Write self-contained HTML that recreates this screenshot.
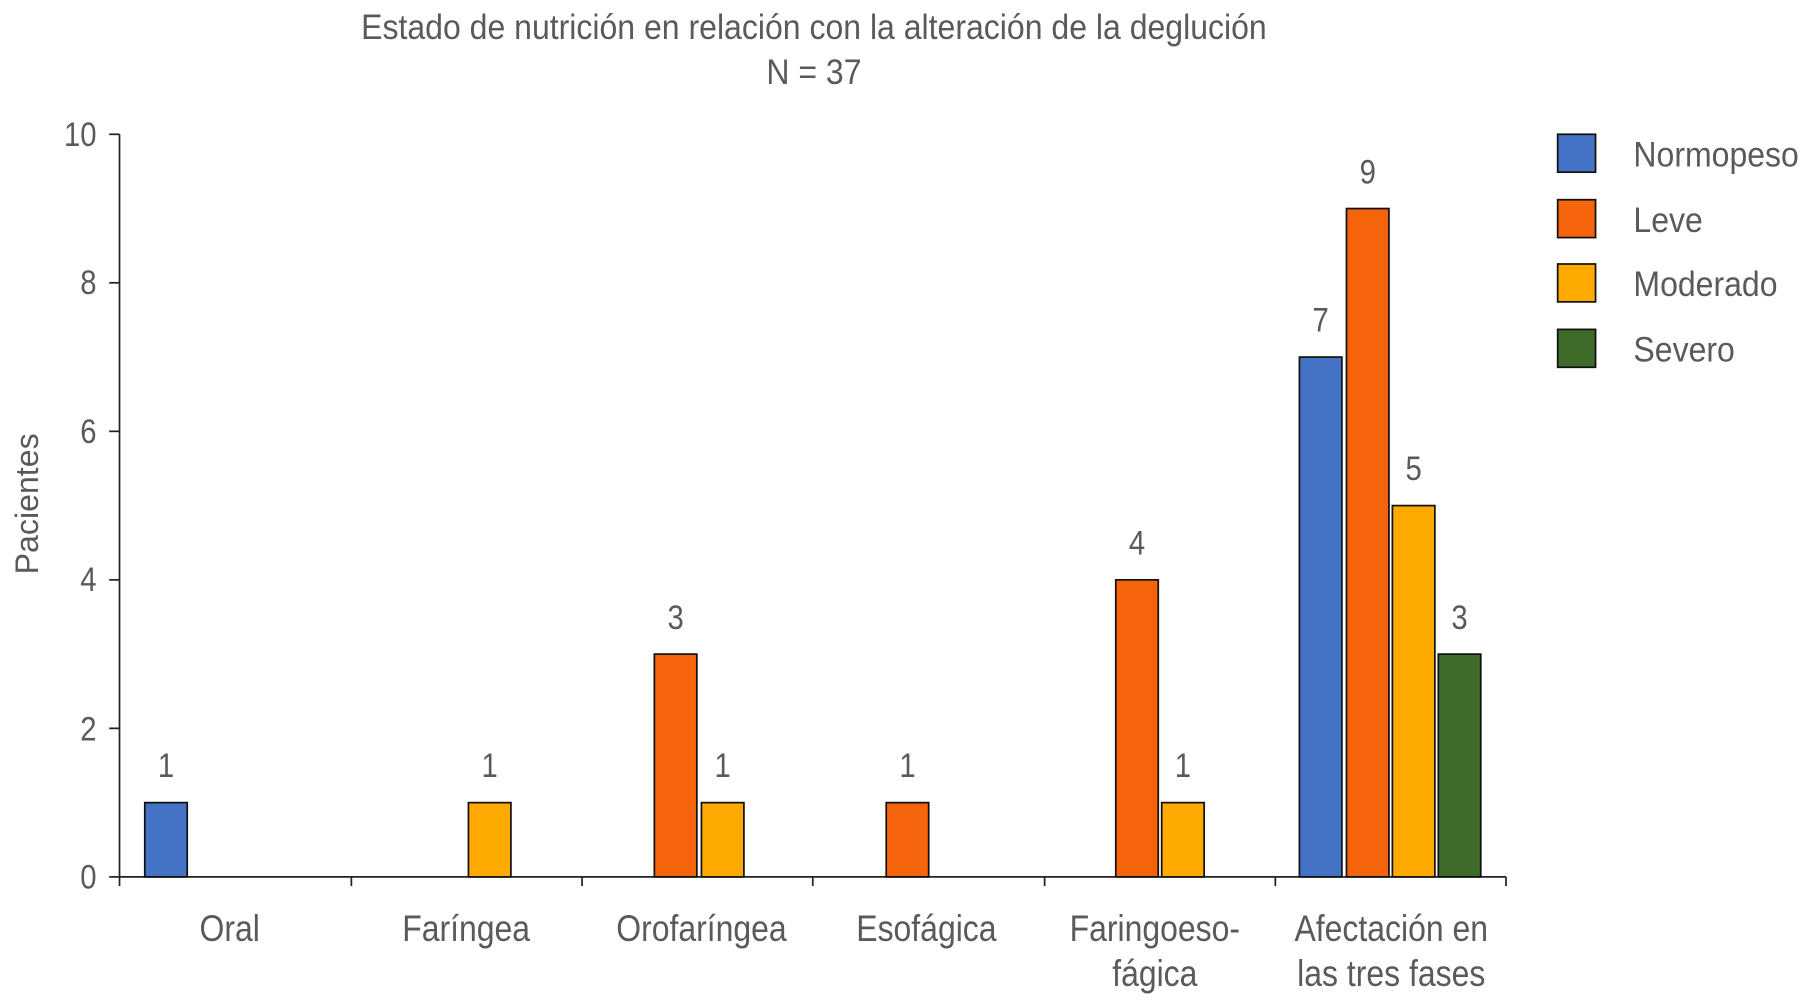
<!DOCTYPE html>
<html><head><meta charset="utf-8"><style>html,body{margin:0;padding:0;background:#fff}svg{display:block}</style></head><body>
<svg width="1800" height="1002" viewBox="0 0 1568 873" xmlns="http://www.w3.org/2000/svg" font-family="Liberation Sans, sans-serif" fill="#5a5a5a">
<g font-size="31" text-anchor="middle">
<text transform="translate(709,34) scale(0.9,1)">Estado de nutrición en relación con la alteración de la deglución</text>
<text transform="translate(709,73) scale(0.9,1)">N = 37</text>
</g>
<text transform="translate(33,439) rotate(-90)" font-size="28" text-anchor="middle">Pacientes</text>
<g stroke="#222" stroke-width="1.5">
<line x1="104" y1="117" x2="104" y2="772"/>
<line x1="104" y1="764" x2="1312" y2="764"/>
<line x1="95" y1="117" x2="104" y2="117"/><line x1="95" y1="246.4" x2="104" y2="246.4"/><line x1="95" y1="375.8" x2="104" y2="375.8"/><line x1="95" y1="505.2" x2="104" y2="505.2"/><line x1="95" y1="634.6" x2="104" y2="634.6"/><line x1="95" y1="764" x2="104" y2="764"/>
<line x1="306" y1="764" x2="306" y2="772"/><line x1="507" y1="764" x2="507" y2="772"/><line x1="708" y1="764" x2="708" y2="772"/><line x1="910" y1="764" x2="910" y2="772"/><line x1="1111" y1="764" x2="1111" y2="772"/><line x1="1312" y1="764" x2="1312" y2="772"/>
</g>
<g font-size="30" text-anchor="end">
<text transform="translate(84,127) scale(0.85,1)">10</text>
<text transform="translate(84,256) scale(0.85,1)">8</text>
<text transform="translate(84,386) scale(0.85,1)">6</text>
<text transform="translate(84,515) scale(0.85,1)">4</text>
<text transform="translate(84,645) scale(0.85,1)">2</text>
<text transform="translate(84,774) scale(0.85,1)">0</text>
</g>
<g stroke="#111" stroke-width="1.5">
<rect x="126" y="699.3" width="37" height="64.7" fill="#4472C4"/>
<rect x="408" y="699.3" width="37" height="64.7" fill="#FFAA00"/>
<rect x="570" y="569.9" width="37" height="194.1" fill="#F5640A"/>
<rect x="611" y="699.3" width="37" height="64.7" fill="#FFAA00"/>
<rect x="772" y="699.3" width="37" height="64.7" fill="#F5640A"/>
<rect x="972" y="505.2" width="37" height="258.8" fill="#F5640A"/>
<rect x="1012" y="699.3" width="37" height="64.7" fill="#FFAA00"/>
<rect x="1132" y="311.1" width="37" height="452.9" fill="#4472C4"/>
<rect x="1173" y="181.7" width="37" height="582.3" fill="#F5640A"/>
<rect x="1213" y="440.5" width="37" height="323.5" fill="#FFAA00"/>
<rect x="1253" y="569.9" width="37" height="194.1" fill="#3F6B2A"/>
</g>
<g font-size="30" text-anchor="middle">
<text transform="translate(144.5,677) scale(0.85,1)">1</text>
<text transform="translate(426.5,677) scale(0.85,1)">1</text>
<text transform="translate(588.5,548) scale(0.85,1)">3</text>
<text transform="translate(629.5,677) scale(0.85,1)">1</text>
<text transform="translate(790.5,677) scale(0.85,1)">1</text>
<text transform="translate(990.5,483) scale(0.85,1)">4</text>
<text transform="translate(1030.5,677) scale(0.85,1)">1</text>
<text transform="translate(1150.5,289) scale(0.85,1)">7</text>
<text transform="translate(1191.5,160) scale(0.85,1)">9</text>
<text transform="translate(1231.5,418) scale(0.85,1)">5</text>
<text transform="translate(1271.5,548) scale(0.85,1)">3</text>
</g>
<g font-size="32" text-anchor="middle">
<text transform="translate(200,820) scale(0.87,1)">Oral</text>
<text transform="translate(406,820) scale(0.87,1)">Faríngea</text>
<text transform="translate(611,820) scale(0.87,1)">Orofaríngea</text>
<text transform="translate(807,820) scale(0.87,1)">Esofágica</text>
<text transform="translate(1006,820) scale(0.87,1)">Faringoeso-</text>
<text transform="translate(1006,859) scale(0.87,1)">fágica</text>
<text transform="translate(1212,820) scale(0.87,1)">Afectación en</text>
<text transform="translate(1212,859) scale(0.87,1)">las tres fases</text>
</g>
<g stroke="#111" stroke-width="1.5">
<rect x="1357" y="117" width="33" height="33" fill="#4472C4"/>
<rect x="1357" y="174" width="33" height="33" fill="#F5640A"/>
<rect x="1357" y="230" width="33" height="33" fill="#FFAA00"/>
<rect x="1357" y="287" width="33" height="33" fill="#3F6B2A"/>
</g>
<g font-size="31">
<text transform="translate(1423,145) scale(0.9,1)">Normopeso</text>
<text transform="translate(1423,202) scale(0.9,1)">Leve</text>
<text transform="translate(1423,258) scale(0.9,1)">Moderado</text>
<text transform="translate(1423,315) scale(0.9,1)">Severo</text>
</g>
</svg>
</body></html>
